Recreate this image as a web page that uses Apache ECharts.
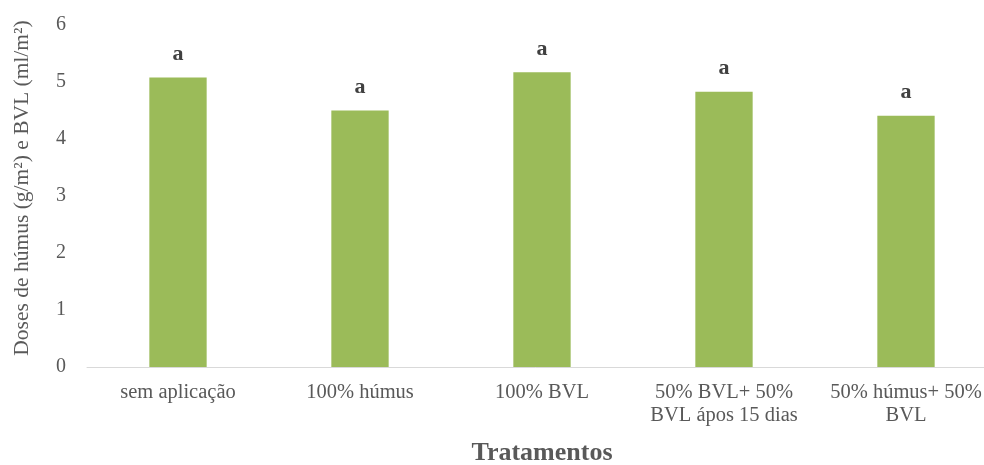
<!DOCTYPE html>
<html>
<head>
<meta charset="utf-8">
<script src="https://cdn.jsdelivr.net/npm/echarts@6/dist/echarts.min.js"></script>
<style>
  html, body { margin: 0; padding: 0; background: #fff; }
  #chart { width: 984px; height: 465px; }
</style>
</head>
<body>
<div id="chart"></div>
<script>
// Treatments and measured doses
const categories = ['sem aplicação', '100% húmus', '100% BVL', '50% BVL+ 50%\nBVL ápos 15 dias', '50% húmus+ 50%\nBVL'];
const doses = [5.08, 4.50, 5.17, 4.83, 4.41];
const letters = ['a', 'a', 'a', 'a', 'a'];
const yTicks = [0, 1, 2, 3, 4, 5, 6];

const serif = '"Liberation Serif", "Times New Roman", serif';
const textColor = '#595959';

const chart = echarts.init(document.getElementById('chart'));
chart.setOption({
  animation: false,
  grid: { left: 87, top: 25, width: 910, height: 342, containLabel: false, outerBoundsMode: 'none' },
  xAxis: [{
    type: 'category',
    data: categories,
    axisLine: { lineStyle: { color: '#D9D9D9', width: 1 } },
    axisTick: { alignWithLabel: true, length: 5, lineStyle: { color: '#D9D9D9' } },
    axisLabel: { color: textColor, fontFamily: serif, fontSize: 20.5, lineHeight: 23, margin: 14, interval: 0 },
    name: 'Tratamentos',
    nameLocation: 'middle',
    nameGap: 73,
    nameTextStyle: { color: textColor, fontFamily: serif, fontSize: 26, fontWeight: 'bold' }
  }, {
    type: 'category',
    data: categories,
    position: 'bottom',
    axisLine: { show: false },
    axisTick: { inside: true, length: 5, lineStyle: { color: '#D9D9D9' } },
    axisLabel: { show: false }
  }],
  yAxis: {
    type: 'value',
    min: yTicks[0],
    max: yTicks[yTicks.length - 1],
    interval: 1,
    axisLine: { show: false },
    axisTick: { show: false },
    splitLine: { show: false },
    axisLabel: { color: textColor, fontFamily: serif, fontSize: 20, margin: 21 },
    name: 'Doses de húmus (g/m²) e BVL (ml/m²)',
    nameLocation: 'middle',
    nameGap: 54,
    nameTextStyle: { color: textColor, fontFamily: serif, fontSize: 21.5, padding: [0, 0, 0, 16] }
  },
  series: [{
    type: 'bar',
    data: doses,
    barWidth: '31.5%',
    itemStyle: { color: '#9BBB59' },
    label: {
      show: true,
      position: 'top',
      distance: 12,
      formatter: p => letters[p.dataIndex],
      color: '#404040',
      fontFamily: serif,
      fontSize: 22,
      fontWeight: 'bold'
    }
  }]
});
</script>
</body>
</html>
